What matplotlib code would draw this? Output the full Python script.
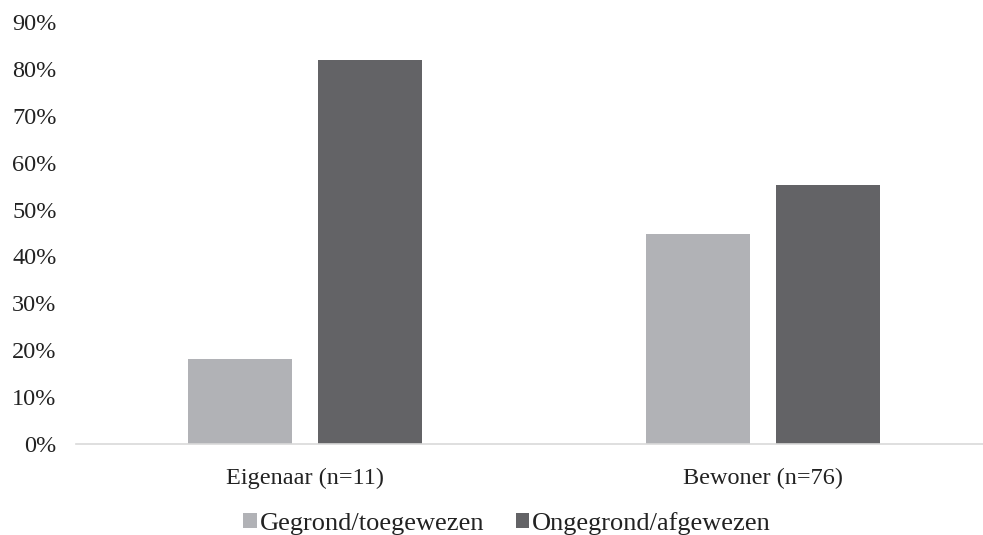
import matplotlib.pyplot as plt
import numpy as np

plt.rcParams['font.family'] = ['Liberation Serif', 'DejaVu Serif']

categories = ['Eigenaar (n=11)', 'Bewoner (n=76)']
gegrond = [0.182, 0.447]
ongegrond = [0.818, 0.553]
series_names = ['Gegrond/toegewezen', 'Ongegrond/afgewezen']
colors = ['#b1b2b6', '#636366']

fig = plt.figure(figsize=(9.83, 5.35), dpi=100)
ax = fig.add_axes([0.0773, 0.170, 0.9227, 0.789])

x = np.arange(len(categories))
w = 0.227
off = 0.142
ax.bar(x - off, gegrond, w, color=colors[0], label=series_names[0])
ax.bar(x + off, ongegrond, w, color=colors[1], label=series_names[1])

ax.set_xlim(-0.5, 1.48)
ax.set_ylim(0, 0.9)
ax.set_yticks(np.arange(0, 0.91, 0.1))
ax.set_yticklabels([f'{int(round(v * 100))}%' for v in np.arange(0, 0.91, 0.1)])
ax.set_xticks(x)
ax.set_xticklabels(categories)
ax.tick_params(axis='both', length=0, labelsize=17.5, colors='#222222')
ax.tick_params(axis='x', pad=17)
ax.tick_params(axis='y', pad=14)
for s in ['top', 'right', 'left']:
    ax.spines[s].set_visible(False)
ax.spines['bottom'].set_color('#d9d9d9')
ax.spines['bottom'].set_linewidth(1.2)

leg = fig.legend(loc='lower center', bbox_to_anchor=(0.516, -0.045), ncol=2, frameon=False,
                 fontsize=19, handlelength=0.5, handleheight=0.5, handletextpad=0.12,
                 columnspacing=1.2)
for t in leg.get_texts():
    t.set_color('#222222')

fig.savefig('out.png', dpi=100)
